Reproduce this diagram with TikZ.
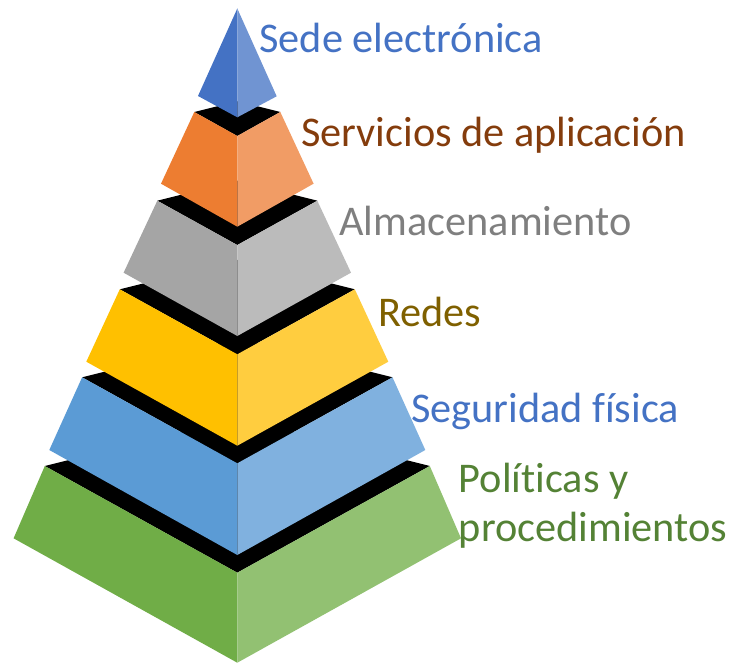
\documentclass[tikz,border=0pt]{standalone}
\usepackage{fontspec}
\setmainfont{Carlito}[Ligatures=NoCommon]
\definecolor{bluL}{HTML}{4472C4}\definecolor{bluR}{HTML}{7094D2}
\definecolor{oraL}{HTML}{ED7D31}\definecolor{oraR}{HTML}{F19C65}
\definecolor{graL}{HTML}{A5A5A5}\definecolor{graR}{HTML}{BBBBBB}
\definecolor{yelL}{HTML}{FFC000}\definecolor{yelR}{HTML}{FFCD3F}
\definecolor{bl2L}{HTML}{5B9BD5}\definecolor{bl2R}{HTML}{80B1DF}
\definecolor{greL}{HTML}{70AD47}\definecolor{greR}{HTML}{92C172}
\definecolor{txtSede}{HTML}{4472C4}
\definecolor{txtServ}{HTML}{843C0C}
\definecolor{txtAlm}{HTML}{7F7F7F}
\definecolor{txtRed}{HTML}{7F6000}
\definecolor{txtSeg}{HTML}{4472C4}
\definecolor{txtPol}{HTML}{548235}
\tikzset{
  lbl/.style={anchor=base west, inner sep=0pt, outer sep=0pt, font=\fontsize{42.3}{49}\selectfont},
}
% layer: #1 top half, #2 top y, #3 top front y, #4 bottom half, #5 bottom y, #6 bottom front y, #7 left col, #8 right col
\newcommand{\pyrlayer}[8]{%
  \fill[black] (237.3-#1,#2) -- (237.3,#2-0.25*#1) -- (237.3+#1,#2) -- (237.3,#3) -- cycle;
  \fill[#7] (237.3-#1,#2) -- (237.3,#3) -- (237.3,#6) -- (237.3-#4,#5) -- cycle;
  \fill[#8] (237.3,#3) -- (237.3+#1,#2) -- (237.3+#4,#5) -- (237.3,#6) -- cycle;
}
\begin{document}
\begin{tikzpicture}[x=1pt,y=-1pt]
\useasboundingbox (0,0) rectangle (733,663);
% bottom to top
\pyrlayer{192.5}{466}{572.7}{223.7}{538.3}{662.7}{greL}{greR}
\pyrlayer{155.2}{377.3}{463.3}{188}{450}{555}{bl2L}{bl2R}
\pyrlayer{117.5}{289.3}{354.3}{151}{361.7}{445.7}{yelL}{yelR}
\pyrlayer{80}{200.7}{245}{113.7}{272.7}{336}{graL}{graR}
\pyrlayer{43}{112}{136}{76.3}{183.7}{226.7}{oraL}{oraR}
% apex
\fill[bluL] (237.3,8.5) -- (237.3,117.3) -- (198,96) -- cycle;
\fill[bluR] (237.3,8.5) -- (276.7,96.3) -- (237.3,117.3) -- cycle;
% labels
\node[lbl, text=txtSede] (sede) at (259.5,52.7) {Sede electrónica};
\node[lbl, text=txtServ] (serv) at (301,146.7) {Servicios de aplicación};
\node[lbl, text=txtAlm] (alm) at (339.5,235) {Almacenamiento};
\node[lbl, text=txtRed] (red) at (378,326.7) {Redes};
\node[lbl, text=txtSeg] (seg) at (411,422.3) {Seguridad física};
\node[lbl, text=txtPol] (pol1) at (458.8,492.7) {Políticas y};
\node[lbl, text=txtPol] (pol2) at (458.8,541.7) {procedimientos};
\end{tikzpicture}
\end{document}
